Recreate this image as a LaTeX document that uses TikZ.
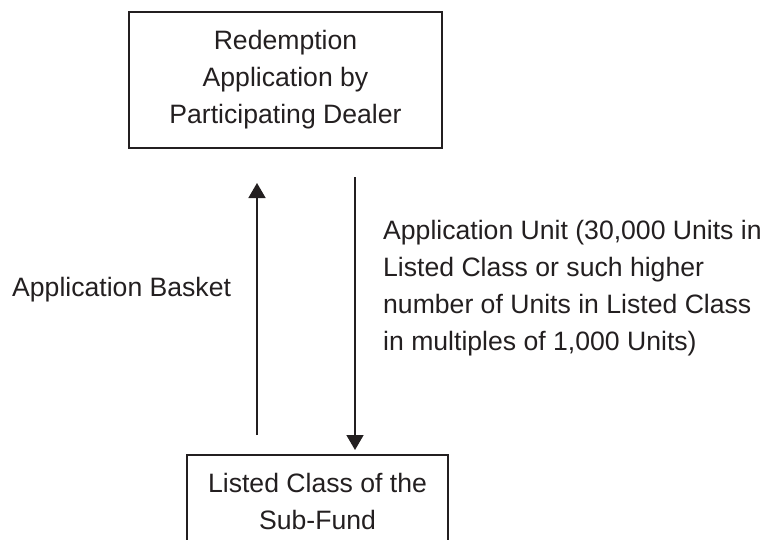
\documentclass[tikz,border=0pt]{standalone}
\usepackage{fontspec}
\setmainfont{Liberation Sans}
\usetikzlibrary{arrows.meta}
\definecolor{ink}{HTML}{231F20}
\begin{document}
\begin{tikzpicture}[x=1pt,y=-1pt,
  box/.style={draw=ink,line width=2.2pt,align=center,inner sep=0pt},
  lbl/.style={text=ink,font=\fontsize{26.6}{37}\selectfont,inner sep=0pt},
  conn/.style={draw=ink,line width=1.6pt,-{Triangle[length=15pt,width=17pt]}}]
\useasboundingbox (0,0) rectangle (764,539);
\clip (0,0) rectangle (764,539);
\node[box,lbl,minimum width=313pt,minimum height=136pt] (top) at (285.5,80)
  {Redemption\\Application by\\Participating Dealer};
\node[box,lbl,minimum width=261pt,minimum height=93pt,anchor=north] (bot) at (317.5,454)
  {Listed Class of the\\Sub-Fund};
\node[lbl,anchor=west] (basket) at (12,290) {Application Basket};
\node[lbl,anchor=west,align=left] (unit) at (383,288)
  {Application Unit (30,000 Units in\\Listed Class or such higher\\number of Units in Listed Class\\in multiples of 1,000 Units)};
\coordinate (upS) at (257,435);
\coordinate (upE) at (257,183);
\coordinate (dnS) at (355,177);
\coordinate (dnE) at (355,450);
\draw[conn] (upS) -- (upE);
\draw[conn] (dnS) -- (dnE);
\end{tikzpicture}
\end{document}
